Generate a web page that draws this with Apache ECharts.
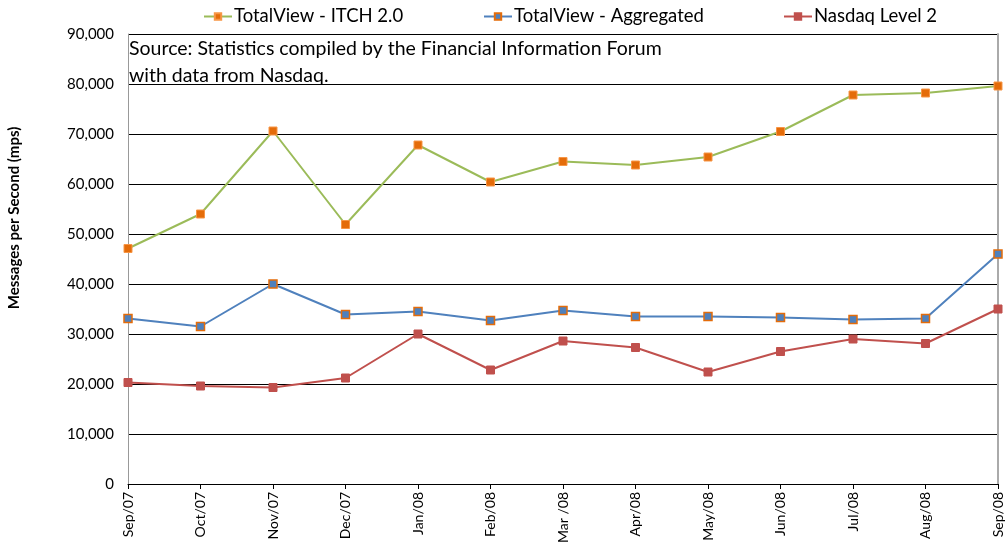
<!DOCTYPE html>
<html>
<head>
<meta charset="utf-8">
<script src="https://cdn.jsdelivr.net/npm/echarts@6/dist/echarts.min.js"></script>
<style>
  html, body { margin: 0; padding: 0; background: #fff; }
  #chart { width: 1005px; height: 548px; }
</style>
</head>
<body>
<div id="chart"></div>
<script>
const months = ['Sep/07', 'Oct/07', 'Nov/07', 'Dec/07', 'Jan/08', 'Feb/08', 'Mar /08',
  'Apr/08', 'May/08', 'Jun/08', 'Jul/08', 'Aug/08', 'Sep/08'];
const itch = [47100, 54000, 70600, 51900, 67800, 60400, 64500, 63800, 65400, 70500, 77800, 78200, 79600];
const aggregated = [33100, 31500, 40000, 33900, 34500, 32700, 34700, 33500, 33500, 33300, 32900, 33100, 46000];
const level2 = [20300, 19600, 19300, 21200, 30000, 22800, 28600, 27300, 22400, 26500, 29000, 28100, 35000];

const font = 'Lato, "DejaVu Sans", sans-serif';
const chart = echarts.init(document.getElementById('chart'));

function legendAt(name, left) {
  return {
    data: [name],
    left: left,
    top: 2,
    itemWidth: 28,
    itemHeight: 8,
    textStyle: { fontFamily: font, fontSize: 18.5, color: '#000', padding: [0, 0, 0, -3] }
  };
}

chart.setOption({
  animation: false,
  legend: [
    legendAt('TotalView - ITCH 2.0', 198),
    legendAt('TotalView - Aggregated', 478),
    legendAt('Nasdaq Level 2', 778)
  ],
  grid: { left: 128, right: 4, top: 34, bottom: 64 },
  xAxis: {
    type: 'category',
    data: months,
    boundaryGap: false,
    axisLine: { lineStyle: { color: '#000', width: 1 } },
    axisTick: { show: true, length: 5, lineStyle: { color: '#000' } },
    axisLabel: { rotate: 90, fontFamily: font, fontSize: 14, color: '#000', margin: 8, interval: 0 }
  },
  yAxis: [{
    type: 'value',
    min: 0,
    max: 90000,
    interval: 10000,
    axisLine: { show: true, lineStyle: { color: '#999' } },
    axisTick: { show: false },
    splitLine: { lineStyle: { color: '#000', width: 1 } },
    axisLabel: {
      fontFamily: font, fontSize: 15, color: '#000', margin: 14,
      formatter: v => v.toLocaleString('en-US')
    }
  }, {
    type: 'value',
    min: 0,
    max: 90000,
    interval: 10000,
    position: 'right',
    axisLine: { show: true, lineStyle: { color: '#aaa', width: 2 } },
    axisTick: { show: false },
    axisLabel: { show: false },
    splitLine: { show: false }
  }],
  graphic: [
    {
      type: 'text',
      rotation: Math.PI / 2,
      x: 14, y: 218,
      style: {
        text: 'Messages per Second (mps)',
        font: 'bold 15px ' + font,
        fill: '#000',
        align: 'center',
        verticalAlign: 'middle'
      }
    },
    {
      type: 'text',
      x: 129, y: 35,
      style: {
        text: 'Source: Statistics compiled by the Financial Information Forum\nwith data from Nasdaq.',
        font: '19.5px ' + font,
        lineHeight: 27,
        fill: '#000'
      }
    }
  ],
  series: [
    {
      name: 'TotalView - ITCH 2.0',
      type: 'line',
      data: itch,
      symbol: 'rect',
      symbolSize: 8,
      lineStyle: { color: '#9BBB59', width: 2 },
      itemStyle: { color: '#E46C0A', borderColor: '#F79646', borderWidth: 1 },
      z: 3
    },
    {
      name: 'TotalView - Aggregated',
      type: 'line',
      data: aggregated,
      symbol: 'rect',
      symbolSize: 8,
      lineStyle: { color: '#4F81BD', width: 2 },
      itemStyle: { color: '#4F81BD', borderColor: '#E46C0A', borderWidth: 1.5 },
      z: 3
    },
    {
      name: 'Nasdaq Level 2',
      type: 'line',
      data: level2,
      symbol: 'rect',
      symbolSize: 8,
      lineStyle: { color: '#C0504D', width: 2 },
      itemStyle: { color: '#C0504D', borderColor: '#C0504D', borderWidth: 1 },
      z: 3
    }
  ]
});
</script>
</body>
</html>
